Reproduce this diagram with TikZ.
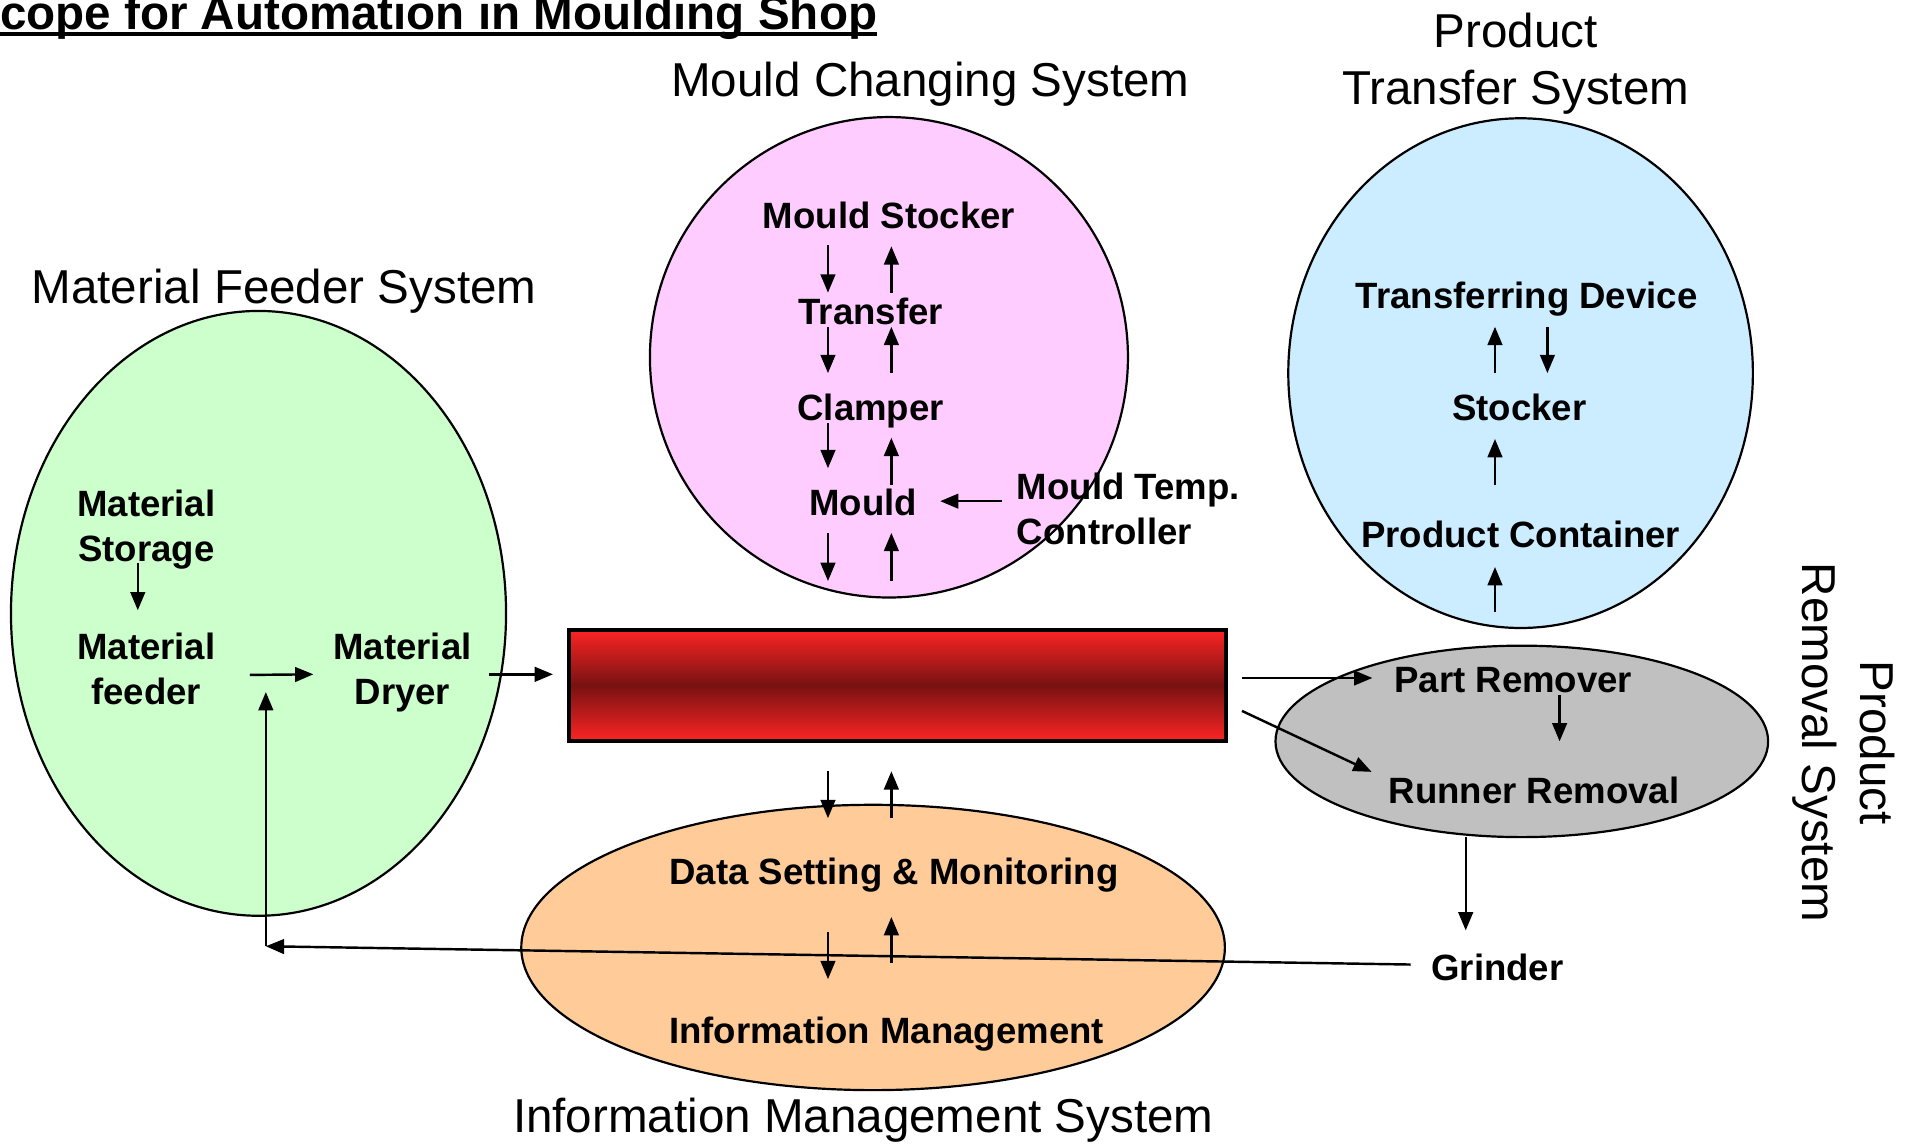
\documentclass[tikz,border=0pt]{standalone}
\usepackage{fontspec}
\setmainfont{Liberation Sans}
\usetikzlibrary{shapes.geometric}
\usetikzlibrary{arrows.meta}
\definecolor{feedgreen}{RGB}{204,255,204}
\definecolor{mouldpink}{RGB}{255,204,255}
\definecolor{transblue}{RGB}{204,236,255}
\definecolor{remgray}{RGB}{192,192,192}
\definecolor{infoorange}{RGB}{255,204,153}
\definecolor{barrelred}{RGB}{252,36,36}
\definecolor{barreldark}{RGB}{120,18,18}
\newcommand{\labfont}{\fontsize{30}{37}\selectfont\bfseries}
\newcommand{\sysfont}{\fontsize{39}{47}\selectfont}

\begin{document}
\begin{tikzpicture}[x=1pt,y=-1pt,
	every node/.style={inner sep=0pt,outer sep=0pt},
	sysell/.style={ellipse,draw,line width=1.8pt},
	lab/.style={font=\labfont,anchor=base},
	lablines/.style={font=\labfont,align=center},
	sys/.style={font=\sysfont,anchor=base},
	arr/.style={line width=2pt,-{Triangle[length=15pt,width=12pt]}}]

	\useasboundingbox (0,0) rectangle (1568,938.2);

	% title
	\node[font=\sysfont\bfseries,anchor=base west] (title) at (0,24) {cope for Automation in Moulding Shop};
	\draw[line width=3pt] ([yshift=-4pt]title.base west) -- ([yshift=-4pt]title.base east);

	% the five systems
	\node[sysell,fill=feedgreen,minimum width=406pt,minimum height=496pt] (feedsys) at (212,503) {};
	\node[sysell,fill=mouldpink,minimum width=392pt,minimum height=394pt] (mouldsys) at (729,293) {};
	\node[sysell,fill=transblue,minimum width=381pt,minimum height=418pt] (transsys) at (1247,306) {};
	\node[sysell,fill=remgray,minimum width=404pt,minimum height=157pt] (remsys) at (1248,608) {};
	\node[sysell,fill=infoorange,minimum width=577pt,minimum height=234pt] (infosys) at (716,777) {};

	% machine
	\node[draw,line width=3pt,minimum width=539pt,minimum height=91pt,
		top color=barrelred,bottom color=barrelred,middle color=barreldark] (barrel) at (736,562) {};

	% system names
	\node[sys] (mcslab) at (763,79) {Mould Changing System};
	\node[font=\sysfont,align=center] (ptslab) at (1243,52) {Product\\Transfer System};
	\node[sys] (mfslab) at (233,249) {Material Feeder System};
	\node[sys] (imslab) at (708,929) {Information Management System};
	\node[font=\sysfont,align=center,rotate=-90] (prslab) at (1512,609) {Product\\Removal System};

	% material feeder
	\node[lablines] (storage) at (120,434) {Material\\Storage};
	\node[lablines] (feeder) at (120,548.5) {Material\\feeder};
	\node[lablines] (dryer) at (330,551.7) {Material\\Dryer};

	% mould changing
	\node[lab] (mstock) at (729,187) {Mould Stocker};
	\node[lab] (transf) at (714,266) {Transfer};
	\node[lab] (clamp) at (714,345) {Clamper};
	\node[lab] (mould) at (708,423) {Mould};
	\node[font=\labfont,align=left,anchor=west] (temp) at (834,417.5) {Mould Temp.\\Controller};

	% product transfer
	\node[lab] (transdev) at (1252,253) {Transferring Device};
	\node[lab] (pstock) at (1246,345) {Stocker};
	\node[lab] (pcont) at (1247,449) {Product Container};

	% product removal
	\node[lab] (partrem) at (1241,568) {Part Remover};
	\node[lab] (runrem) at (1258,659) {Runner Removal};
	\node[lab] (grinder) at (1228,804) {Grinder};

	% information management
	\node[lab] (datas) at (733,725) {Data Setting \& Monitoring};
	\node[lab] (infom) at (727,856) {Information Management};

	% arrows: feeder side
	\draw[arr] ([shift={(-7,28)}]storage.center) -- ([shift={(-7,-48)}]feeder.center);
	\draw[arr] ([shift={(85,5)}]feeder.center) -- ([shift={(-73,1.3)}]dryer.center);
	\draw[arr] ([shift={(71,1.3)}]dryer.center) -- ([shift={(-13,-9)}]barrel.west);

	% arrows: mould changing
	\draw[arr] ([shift={(-50,14)}]mstock.base) -- ([shift={(-35,-26)}]transf.base);
	\draw[arr] ([shift={(17,-26)}]transf.base) -- ([shift={(2,15)}]mstock.base);
	\draw[arr] ([shift={(-35,2)}]transf.base) -- ([shift={(-35,-39)}]clamp.base);
	\draw[arr] ([shift={(17,-39)}]clamp.base) -- ([shift={(17,2)}]transf.base);
	\draw[arr] ([shift={(-35,2)}]clamp.base) -- ([shift={(-29,-39)}]mould.base);
	\draw[arr] ([shift={(23,-25)}]mould.base) -- ([shift={(17,14)}]clamp.base);
	\draw[arr] ([shift={(-29,14)}]mould.base) -- ([shift={(-57,-40)}]barrel.north);
	\draw[arr] ([shift={(-5,-40)}]barrel.north) -- ([shift={(23,14)}]mould.base);
	\draw[arr] ([shift={(-12,-6.5)}]temp.west) -- ([shift={(63,-12)}]mould.base);

	% arrows: product transfer
	\draw[arr] ([shift={(-20,-39)}]pstock.base) -- ([shift={(-26,15)}]transdev.base);
	\draw[arr] ([shift={(17,15)}]transdev.base) -- ([shift={(23,-39)}]pstock.base);
	\draw[arr] ([shift={(-21,-51)}]pcont.base) -- ([shift={(-20,15)}]pstock.base);
	\draw[arr] ([shift={(-21,-13)}]transsys.south) -- ([shift={(-21,16)}]pcont.base);

	% arrows: product removal
	\draw[arr] ([shift={(13,-6)}]barrel.east) -- ([shift={(-18,-12)}]partrem.base west);
	\draw[arr] ([shift={(13,21)}]barrel.east) -- ([shift={(-14,-26)}]runrem.base west);
	\draw[arr] ([shift={(38,2)}]partrem.base) -- ([shift={(21,-51)}]runrem.base);
	\draw[arr] ([xshift=-46pt]remsys.south) -- ([shift={(-26,-41)}]grinder.base);

	% arrows: information management
	\draw[arr] ([shift={(-57,25)}]barrel.south) -- ([shift={(-54,-54)}]datas.base);
	\draw[arr] ([shift={(-2,-54)}]datas.base) -- ([shift={(-5,25)}]barrel.south);
	\draw[arr] ([shift={(-54,39)}]datas.base) -- ([shift={(-48,-53)}]infom.base);
	\draw[arr] ([shift={(4,-66)}]infom.base) -- ([shift={(-2,27)}]datas.base);

	% return from grinder
	\coordinate (ret) at (218,776);
	\draw[arr] ([shift={(-17,-13)}]grinder.base west) -- (ret);
	\draw[arr] (ret) -- ([shift={(98,19)}]feeder.center);

\end{tikzpicture}
\end{document}
